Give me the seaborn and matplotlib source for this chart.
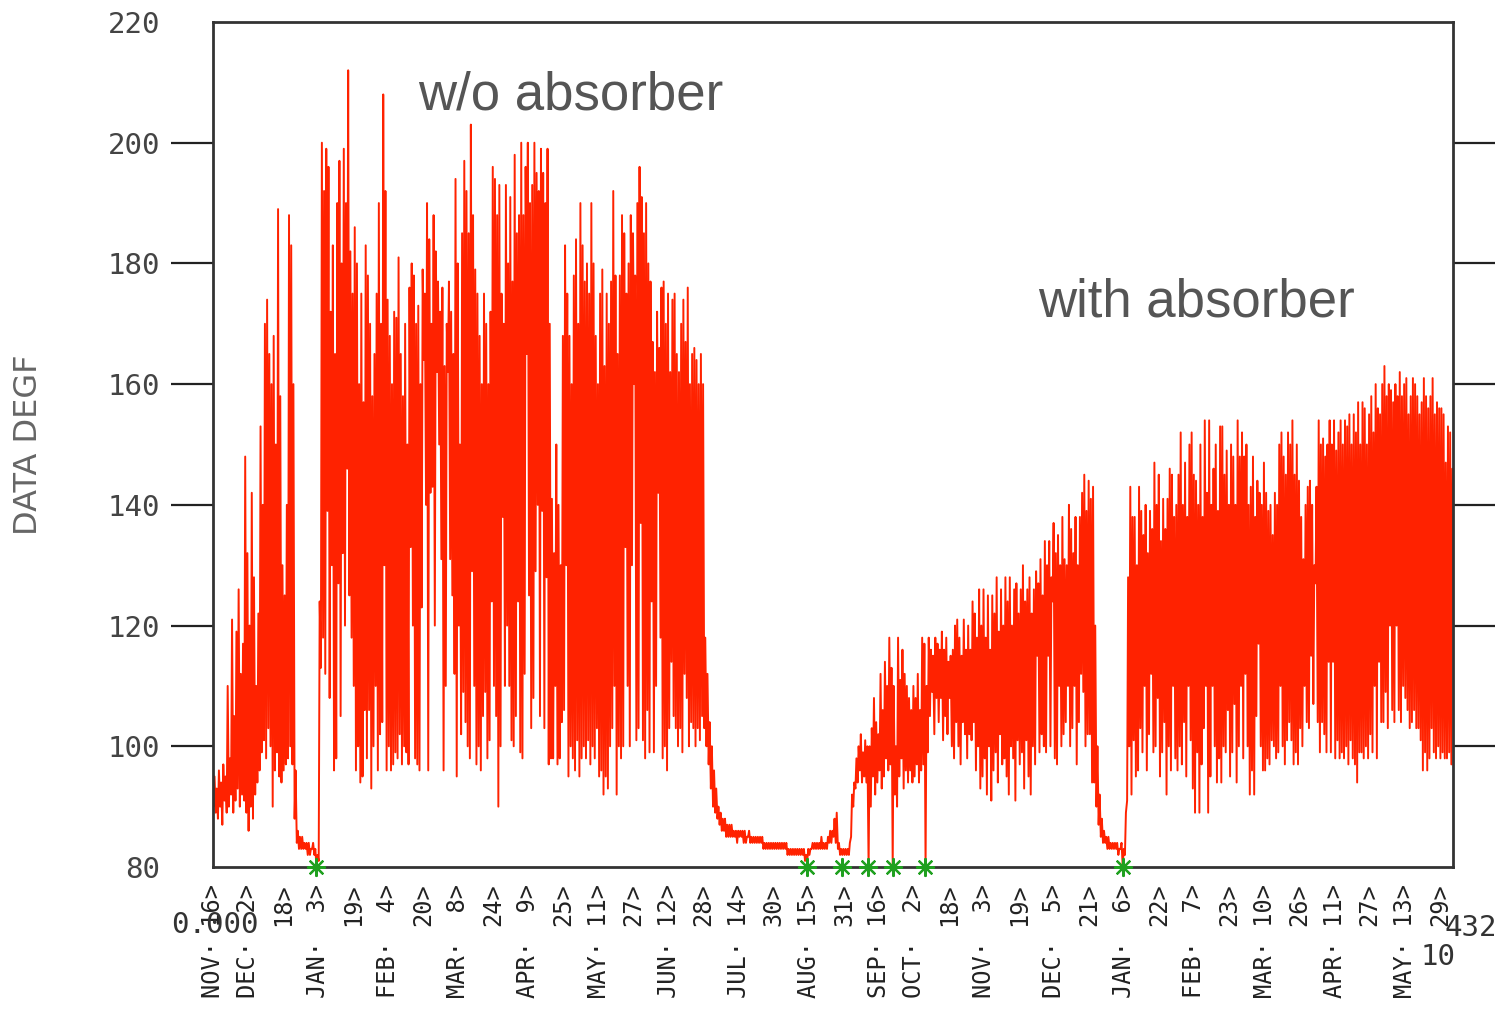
import numpy as np
import pandas as pd
import matplotlib
matplotlib.use("Agg")
import matplotlib.pyplot as plt
import seaborn as sns

# ---------------- data (daily low / high, DEGF) ----------------
# heating season 1 : days 0-224
season1_hi = [95, 93, 96, 94, 97, 95, 110, 98, 121, 105,
              119, 126, 112, 117, 148, 132, 120, 142, 128, 110,
              122, 153, 140, 170, 174, 165, 160, 168, 150, 189,
              158, 130, 125, 140, 188, 183, 160, 96, 86, 85,
              85, 84, 84, 84, 83, 84, 83, 82, 124, 200,
              192, 199, 196, 172, 183, 165, 190, 197, 180, 199,
              190, 212, 182, 175, 186, 180, 160, 175, 157, 183,
              178, 170, 158, 165, 175, 190, 170, 208, 192, 174,
              168, 160, 172, 171, 181, 165, 158, 170, 150, 176,
              180, 178, 170, 173, 160, 179, 175, 190, 184, 170,
              188, 182, 177, 172, 176, 163, 170, 177, 172, 165,
              194, 180, 150, 185, 197, 192, 185, 203, 188, 179,
              175, 168, 160, 175, 170, 160, 172, 196, 194, 188,
              193, 175, 170, 193, 180, 191, 177, 198, 185, 188,
              200, 188, 196, 200, 190, 193, 200, 195, 192, 199,
              195, 190, 199, 170, 141, 132, 150, 140, 130, 168,
              183, 175, 168, 160, 178, 184, 170, 190, 183, 177,
              180, 175, 190, 180, 168, 160, 175, 179, 163, 175,
              170, 177, 192, 178, 165, 178, 188, 185, 175, 180,
              188, 185, 178, 190, 196, 191, 185, 190, 180, 177,
              167, 162, 172, 166, 176, 177, 170, 175, 162, 174,
              175, 165, 162, 170, 174, 167, 176, 160, 165, 166,
              164, 160, 165, 160, 118]
season1_lo = [90, 89, 88, 90, 87, 91, 89, 90, 92, 89,
              91, 93, 90, 92, 91, 89, 86, 90, 88, 92,
              94, 96, 99, 101, 98, 103, 100, 90, 96, 99,
              95, 94, 96, 97, 98, 100, 97, 88, 84, 83,
              83, 83, 83, 82, 82, 83, 82, 80, 81, 113,
              118, 112, 139, 108, 130, 96, 98, 127, 105, 132,
              120, 146, 125, 118, 110, 96, 100, 94, 95, 106,
              98, 106, 93, 100, 110, 96, 102, 104, 130, 96,
              100, 96, 97, 99, 98, 102, 97, 100, 99, 97,
              133, 120, 98, 97, 96, 123, 164, 140, 96, 142,
              143, 120, 162, 150, 131, 96, 110, 162, 131, 125,
              112, 95, 120, 102, 109, 104, 100, 98, 129, 110,
              97, 100, 96, 105, 109, 98, 101, 124, 110, 105,
              90, 100, 138, 110, 120, 110, 101, 100, 105, 124,
              99, 98, 112, 165, 125, 103, 108, 129, 140, 105,
              139, 103, 128, 97, 98, 98, 110, 97, 98, 104,
              106, 130, 95, 100, 98, 96, 101, 95, 98, 100,
              98, 101, 97, 100, 98, 103, 95, 96, 92, 95,
              93, 100, 103, 110, 92, 100, 98, 100, 133, 110,
              100, 130, 160, 101, 103, 137, 101, 98, 106, 99,
              124, 99, 110, 142, 118, 98, 100, 96, 103, 114,
              105, 103, 100, 103, 99, 112, 108, 100, 104, 103,
              100, 103, 101, 105, 103]

# summer / off period : days 225-290
off_hi = [112, 104, 100, 96, 93,
          90, 89, 88, 88, 87, 87, 87, 86, 86, 86,
          86, 86, 86, 85, 86, 85, 85, 85, 85, 85,
          85, 84, 84, 84, 84, 84, 84, 84, 84, 84,
          84, 84, 83, 83, 83, 83, 83, 83, 83, 83,
          82, 83, 83, 84, 84, 84, 84, 85, 84, 84,
          85, 86, 86, 88, 89, 84, 83, 83, 83, 83,
          84]
off_lo = [100, 97, 93, 90, 89,
          88, 87, 86, 86, 85, 85, 85, 85, 85, 84,
          85, 85, 84, 84, 85, 84, 84, 84, 84, 84,
          84, 83, 83, 83, 83, 83, 83, 83, 83, 83,
          83, 83, 82, 82, 82, 82, 82, 82, 82, 82,
          81, 81, 82, 83, 83, 83, 83, 83, 83, 83,
          83, 84, 84, 85, 84, 83, 82, 82, 82, 82,
          82]

# heating season 2 (with absorber) : days 291-565
season2_hi = [92, 94, 98, 100, 102, 99, 101, 100, 100,
              103, 108, 104, 102, 112, 106, 114, 110, 118, 113,
              110, 100, 118, 111, 116, 112, 110, 108, 106, 110,
              108, 112, 106, 118, 117, 110, 118, 116, 115, 118,
              117, 116, 119, 116, 118, 114, 115, 116, 120, 121,
              118, 115, 121, 116, 120, 116, 124, 122, 118, 126,
              120, 126, 118, 125, 116, 125, 122, 128, 119, 126,
              120, 128, 124, 128, 120, 126, 127, 122, 126, 130,
              124, 126, 128, 122, 126, 129, 127, 131, 125, 134,
              130, 134, 128, 137, 132, 135, 130, 138, 131, 130,
              140, 136, 132, 138, 130, 138, 142, 145, 139, 144,
              141, 143, 120, 100, 92, 88, 86, 85, 85, 84,
              84, 84, 84, 83, 84, 83, 89, 128, 143, 138,
              138, 130, 143, 139, 135, 140, 132, 139, 136, 147,
              140, 145, 134, 141, 136, 141, 146, 145, 138, 140,
              145, 152, 140, 147, 138, 150, 152, 145, 144, 140,
              150, 138, 154, 142, 154, 140, 146, 150, 139, 153,
              153, 145, 149, 140, 150, 148, 140, 154, 148, 152,
              148, 150, 140, 143, 148, 138, 144, 142, 140, 147,
              142, 139, 140, 135, 142, 140, 150, 152, 148, 145,
              152, 150, 154, 145, 150, 144, 138, 131, 140, 143,
              144, 140, 130, 143, 154, 150, 151, 148, 150, 154,
              150, 154, 149, 152, 154, 150, 154, 153, 155, 150,
              155, 152, 157, 150, 157, 156, 150, 155, 158, 152,
              160, 156, 155, 160, 163, 158, 160, 159, 157, 160,
              158, 162, 158, 160, 161, 155, 158, 161, 160, 158,
              155, 157, 161, 158, 156, 158, 161, 155, 157, 156,
              156, 155, 147, 153, 152, 146]
season2_lo = [85, 90, 93, 94, 96, 94, 95, 94, 80,
              90, 95, 92, 94, 96, 93, 95, 98, 96, 97,
              80, 92, 90, 95, 98, 93, 96, 94, 96, 94,
              95, 97, 94, 96, 97, 80, 99, 105, 109, 102,
              108, 104, 108, 101, 105, 102, 108, 100, 98, 104,
              100, 97, 104, 102, 98, 102, 101, 104, 96, 100,
              93, 95, 98, 92, 100, 91, 96, 99, 94, 102,
              97, 98, 95, 92, 100, 98, 91, 101, 97, 99,
              93, 101, 95, 92, 100, 97, 115, 99, 102, 100,
              99, 115, 100, 124, 98, 97, 110, 100, 102, 104,
              110, 100, 103, 110, 97, 104, 112, 109, 100, 102,
              102, 94, 94, 90, 87, 85, 84, 84, 83, 83,
              83, 83, 83, 82, 83, 80, 82, 91, 100, 92,
              101, 95, 96, 103, 99, 110, 96, 102, 112, 99,
              100, 108, 95, 99, 104, 92, 100, 96, 110, 98,
              96, 100, 97, 104, 95, 110, 101, 93, 89, 99,
              89, 97, 103, 110, 89, 95, 110, 100, 94, 98,
              94, 100, 99, 106, 95, 99, 107, 94, 100, 110,
              98, 112, 100, 92, 96, 92, 105, 117, 100, 96,
              96, 98, 97, 101, 100, 98, 99, 110, 100, 97,
              101, 104, 101, 97, 99, 97, 103, 100, 110, 104,
              103, 115, 107, 127, 104, 99, 104, 102, 99, 114,
              99, 114, 98, 101, 98, 99, 98, 100, 97, 101,
              98, 97, 94, 99, 99, 98, 100, 98, 102, 99,
              110, 98, 114, 104, 104, 109, 103, 120, 106, 104,
              120, 106, 104, 110, 108, 106, 103, 104, 106, 103,
              103, 101, 96, 99, 96, 98, 103, 99, 98, 100,
              98, 99, 98, 98, 99, 97]

# days where the sensor flag (green star) sits on the axis
flag_days = [47, 271, 287, 299, 310.5, 325, 415.5]

# x tick labels (every 16 days)
tick_month = ["NOV", "DEC", "", "JAN", "", "FEB", "", "MAR", "", "APR", "", "MAY",
              "", "JUN", "", "JUL", "", "AUG", "", "SEP", "OCT", "", "NOV", "",
              "DEC", "", "JAN", "", "FEB", "", "MAR", "", "APR", "", "MAY", ""]
tick_day = [16, 2, 18, 3, 19, 4, 20, 8, 24, 9, 25, 11, 27, 12, 28, 14, 30, 15,
            31, 16, 2, 18, 3, 19, 5, 21, 6, 22, 7, 23, 10, 26, 11, 27, 13, 29]
y_ticks = [80, 100, 120, 140, 160, 180, 200, 220]

# ---------------- build long table ----------------
hi = season1_hi + off_hi + season2_hi
lo = season1_lo + off_lo + season2_lo
n = min(len(hi), len(lo))
t, v = [], []
for d in range(n):
    t += [d + 0.25, d + 0.7]
    v += [lo[d], hi[d]]
df = pd.DataFrame({"day": t, "degf": v})
flags = pd.DataFrame({"day": flag_days, "degf": [80] * len(flag_days)})

# ---------------- figure ----------------
sns.set_style("white")
plt.rcParams["font.family"] = ["DejaVu Sans"]

W, H = 1510, 1018
fig = plt.figure(figsize=(W / 100, H / 100), dpi=100)
ax = fig.add_axes([213 / W, 1 - 867 / H, (1453 - 213) / W, (867 - 22) / H])

sns.lineplot(data=df, x="day", y="degf", ax=ax, color="#ff2200", lw=1.4,
             estimator=None, sort=False)
sns.scatterplot(data=flags, x="day", y="degf", ax=ax, color="#1fa01f",
                marker=(8, 2, 0), s=150, linewidth=1.6, edgecolor="#1fa01f",
                zorder=5, clip_on=False)

ax.set_xlim(0, 566)
ax.set_ylim(80, 220)

for s in ax.spines.values():
    s.set_color("#333333")
    s.set_linewidth(2)

# y axis
ax.set_yticks(y_ticks)
ax.set_yticklabels([str(y) for y in y_ticks], family="DejaVu Sans Mono",
                   fontsize=21, color="#444444")
ax.yaxis.remove_overlapping_locs = False
ax.set_yticks(y_ticks[1:-1], minor=True)
ax.tick_params(axis="y", which="major", length=0, pad=38, left=True, right=False)
ax.tick_params(axis="y", which="minor", length=30, width=1.6, color="#222222",
               direction="out", left=True, right=True)
ax.set_ylabel("DATA DEGF", fontsize=23, color="#666666")
ax.yaxis.set_label_coords((44 - 213) / 1240, 0.5)

# x axis
xt = [16 * i for i in range(len(tick_day))]
labels = []
for m, d in zip(tick_month, tick_day):
    labels.append(f"{m}·{d:>3}>" if m else f"{d}>")
ax.set_xticks(xt)
ax.set_xticklabels(labels, rotation=90, family="DejaVu Sans Mono", fontsize=17,
                   color="#222222", ha="center", va="top")
ax.tick_params(axis="x", length=0, pad=12)
ax.set_xlabel("")

# axis multiplier remnants
fig.text(215 / W, 1 - 925 / H, "0.000", family="DejaVu Sans Mono", fontsize=21,
         color="#333333", ha="center", va="center")
fig.text(1471 / W, 1 - 928 / H, "432", family="DejaVu Sans Mono", fontsize=21,
         color="#333333", ha="center", va="center")
fig.text(1438 / W, 1 - 957 / H, "10", family="DejaVu Sans Mono", fontsize=21,
         color="#333333", ha="center", va="center")

# annotations
ax.text(93.6, 205.5, "w/o absorber", family="Liberation Sans", fontsize=38,
        color="#555555", va="baseline", ha="left")
ax.text(376.5, 171.2, "with absorber", family="Liberation Sans", fontsize=38,
        color="#555555", va="baseline", ha="left")

fig.savefig("out.png", dpi=100, facecolor="white")
